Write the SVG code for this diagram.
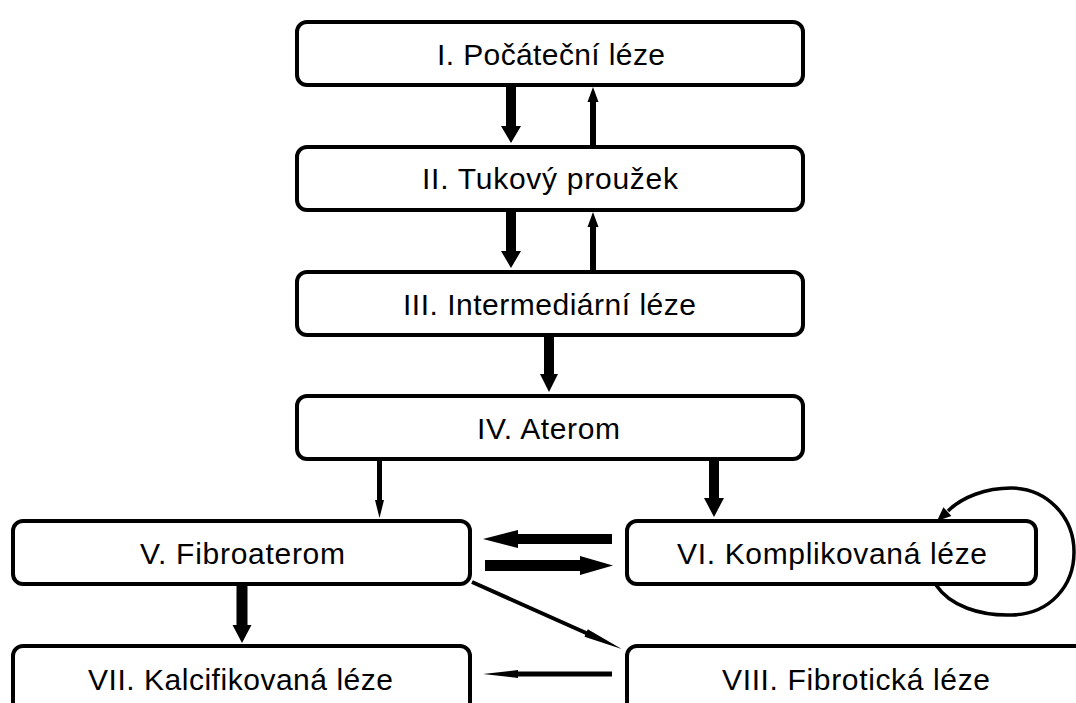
<svg xmlns="http://www.w3.org/2000/svg" width="1076" height="703" viewBox="0 0 1076 703">
<style>
.box{fill:#fff;stroke:#000;stroke-width:4}
.lbl{font-family:"Liberation Sans",Arial,sans-serif;font-size:30px;fill:#000;text-anchor:middle}
.arr{fill:#000;stroke:none}
.loop{fill:none;stroke:#000;stroke-width:3.5}
</style>
<rect width="1076" height="703" fill="#fff"/>
<g id="node-I"><rect class="box" x="297" y="22" width="506" height="63" rx="10"/><text class="lbl" x="551" y="65" textLength="228">I. Počáteční léze</text></g>
<g id="node-II"><rect class="box" x="297" y="147" width="506" height="63" rx="10"/><text class="lbl" x="550" y="189" textLength="256">II. Tukový proužek</text></g>
<g id="node-III"><rect class="box" x="297" y="272" width="506" height="63" rx="10"/><text class="lbl" x="549.5" y="315" textLength="293">III. Intermediární léze</text></g>
<g id="node-IV"><rect class="box" x="297" y="396" width="506" height="63" rx="10"/><text class="lbl" x="548.5" y="439" textLength="143">IV. Aterom</text></g>
<g id="node-V"><rect class="box" x="13" y="521" width="457" height="63" rx="10"/><text class="lbl" x="242.5" y="564" textLength="205">V. Fibroaterom</text></g>
<g id="node-VI"><rect class="box" x="627" y="521" width="409" height="63" rx="10"/><text class="lbl" x="832" y="564" textLength="310">VI. Komplikovaná léze</text></g>
<g id="node-VII"><rect class="box" x="13" y="646" width="457" height="72" rx="10"/><text class="lbl" x="240.5" y="690" textLength="305">VII. Kalcifikovaná léze</text></g>
<g id="node-VIII"><rect class="box" x="627" y="646" width="470" height="72" rx="10"/><text class="lbl" x="856" y="690" textLength="268">VIII. Fibrotická léze</text></g>
<g id="connectors">
<polygon class="arr" points="506,85 516,85 516,126 521,126 511,143 501,126 506,126"/>
<polygon class="arr" points="590,145 596,145 596,102 598.5,102 593,87 587.5,102 590,102"/>
<polygon class="arr" points="506,210 516,210 516,251 521,251 511,268 501,251 506,251"/>
<polygon class="arr" points="590,270 596,270 596,227 598.5,227 593,212 587.5,227 590,227"/>
<polygon class="arr" points="544,335 554,335 554,374 558,374 549,392 540,374 544,374"/>
<polygon class="arr" points="377,459 382,459 382,500 384,500 379.5,518 375,500 377,500"/>
<polygon class="arr" points="709,459 719,459 719,498 724,498 714,517 704,498 709,498"/>
<polygon class="arr" points="236.5,585 247.5,585 247.5,625 251.5,625 242,643 232.5,625 236.5,625"/>
<polygon class="arr" points="612,534 612,544 518,544 518,548 483,539 518,530 518,534"/>
<polygon class="arr" points="485,560 580,560 580,556 613,565.5 580,575 580,571 485,571"/>
<polygon class="arr" points="612,671.5 612,676.5 518,676.5 518,678 483,674 518,670 518,671.5"/>
<polygon class="arr" transform="translate(472,582) rotate(24.07)" points="0,-2 125,-2 125,-4 164,0 125,4 125,2 0,2"/>
<path class="loop" d="M 936 585 C 950 606, 980 616, 1012 615 C 1050 614, 1074 586, 1074 552 C 1074 516, 1046 488, 1011 488 C 986 488, 962 497, 948 511"/>
<polygon class="arr" points="937,521 951.4,516 943.4,507.2"/>
</g>
</svg>
